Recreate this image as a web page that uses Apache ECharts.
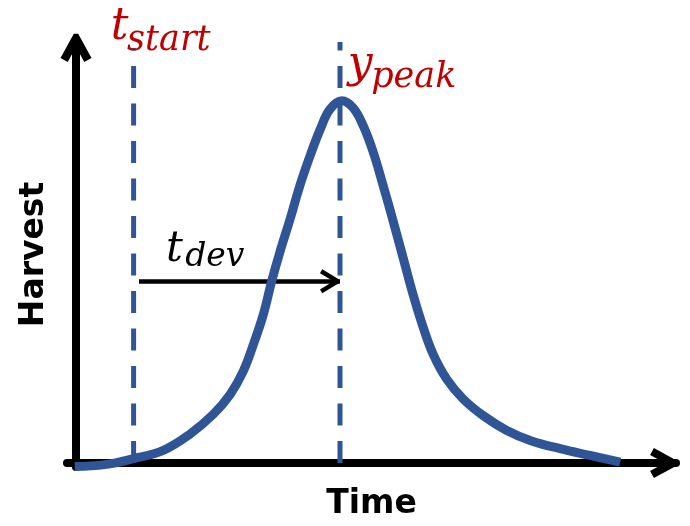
<!DOCTYPE html>
<html>
<head>
<meta charset="utf-8">
<script src="https://cdn.jsdelivr.net/npm/echarts@6/dist/echarts.min.js"></script>
<style>
  html, body { margin: 0; padding: 0; background: #fff; }
  #chart { width: 690px; height: 526px; }
</style>
</head>
<body>
<div id="chart"></div>
<script>
// curve (time, harvest)
const timePts = [
  -0.2, 4.8, 9.55, 14.55, 19, 22.9, 25.7, 27.9, 29.55, 31.2, 32.6, 34, 35.7, 37.3, 39, 40.7, 42.3, 44.3,
  46.2, 47.9, 49.55, 51.2, 52.9, 54.55, 56.2, 57.9, 59.55, 61.8, 64.55, 67.9, 71.8, 75.7, 80.7, 85.7, 90.7
]
const harvestPts = [
  -0.9, -0.4, 1.1, 3.2, 7.3, 12.3, 17.3, 23.2, 29.8, 37.3, 45.7, 53.2, 61.5, 69.8, 77.3, 84, 89, 91.2,
  89.4, 84.8, 78.2, 69.8, 60.7, 51.5, 42.3, 34, 27.3, 21.1, 16.1, 11.9, 8.2, 5.7, 3.6, 1.9, 0.25
]

// markers
const tStart = 9.6
const tPeak = 44
const startLineTop = 104.5
const peakLineTop = 106
const devArrow = [10.5, 44, 45.75]   // from, to, level

// math labels: main letter + subscript, anchored in data coords
const labelTexts = ['t', 'start', 'y', 'peak', 't', 'dev']
const labelX     = [5.8, 8.5, 45.3, 49.2, 15, 18.2]
const labelY     = [104.5, 104.5, 100, 97, 53.5, 51.8]
const labelLift  = [20, 7, 0, 0, 0, 0]   // px above anchor (labels over the plot top)
const labelSizes = [44, 35, 44, 35, 42, 33]

const BLUE = '#2F5597'
const RED = '#C00000'

const bigChevron = 'path://M12.9,0L17.1,0L30,23.6L23,27.4L15,12.8L7,27.4L0,23.6Z'
const thinChevron = 'path://M10.65,0L13.23,0L23.88,18.1L20,20.4L11.94,6.7L3.88,20.4L0,18.1Z'

const chart = echarts.init(document.getElementById('chart'))

const pairs = (xs, ys) => xs.map((x, i) => [x, ys[i]])

const option = {
  animation: false,
  grid: { left: 67, right: 14, top: 42, bottom: 56 },
  xAxis: {
    type: 'value',
    min: -1.5,
    max: 100,
    name: 'Time',
    nameLocation: 'middle',
    nameGap: 21,
    nameTextStyle: { fontFamily: 'DejaVu Sans', fontWeight: 'bold', fontSize: 33, color: '#000' },
    axisLine: {
      onZero: true,
      symbol: ['none', bigChevron],
      symbolSize: [30, 31],
      symbolOffset: [0, -12.2],
      lineStyle: { color: '#000', width: 8 }
    },
    axisTick: { show: false },
    axisLabel: { show: false },
    splitLine: { show: false }
  },
  yAxis: {
    type: 'value',
    min: -1,
    max: 106,
    name: 'Harvest',
    nameLocation: 'middle',
    nameGap: 16,
    nameTextStyle: { fontFamily: 'DejaVu Sans', fontWeight: 'bold', fontSize: 33, color: '#000' },
    axisLine: {
      onZero: true,
      symbol: ['none', bigChevron],
      symbolSize: [31, 29],
      symbolOffset: [0, -5.8],
      lineStyle: { color: '#000', width: 8 }
    },
    axisTick: { show: false },
    axisLabel: { show: false },
    splitLine: { show: false }
  },
  series: [
    {
      name: 'start',
      type: 'line',
      showSymbol: false,
      silent: true,
      data: [[tStart, 0], [tStart, startLineTop]],
      lineStyle: { color: BLUE, width: 5, type: [22, 15.5] },
      markPoint: {
        silent: true,
        symbol: 'circle',
        symbolSize: 1,
        itemStyle: { color: 'rgba(0,0,0,0)' },
        label: {
          show: true,
          position: 'inside',
          align: 'left',
          verticalAlign: 'middle',
          color: RED,
          fontFamily: 'DejaVu Serif',
          fontStyle: 'italic'
        },
        data: labelTexts.map((txt, i) => ({
          coord: [labelX[i], labelY[i]],
          label: {
            formatter: txt,
            fontSize: labelSizes[i],
            offset: [0, -labelLift[i]],
            color: i >= 4 ? '#000' : RED
          }
        }))
      }
    },
    {
      name: 'peak',
      type: 'line',
      showSymbol: false,
      silent: true,
      data: [[tPeak, 0], [tPeak, peakLineTop]],
      lineStyle: { color: BLUE, width: 5, type: [22, 15.5] },
      markLine: {
        silent: true,
        symbol: ['none', thinChevron],
        symbolSize: [24, 20],
        symbolOffset: [0, [0, 10]],
        label: { show: false },
        lineStyle: { color: '#000', width: 4.5, type: 'solid' },
        data: [[
          { coord: [devArrow[0], devArrow[2]] },
          { coord: [devArrow[1], devArrow[2]] }
        ]]
      }
    },
    {
      name: 'harvest',
      type: 'line',
      z: 8,
      smooth: 0.4,
      showSymbol: false,
      silent: true,
      data: pairs(timePts, harvestPts),
      lineStyle: { color: BLUE, width: 9, join: 'round' }
    }
  ]
}

chart.setOption(option)
</script>
</body>
</html>
